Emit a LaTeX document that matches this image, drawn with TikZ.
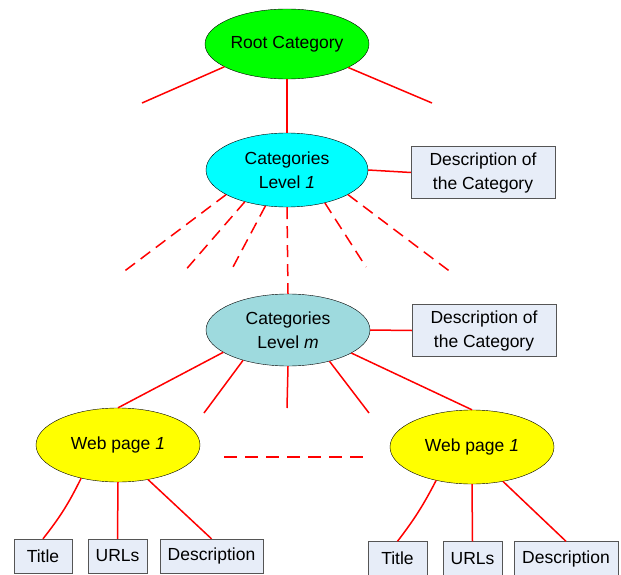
\documentclass[tikz,border=0pt]{standalone}
\usepackage{fontspec}
\setmainfont{Liberation Sans}
\usetikzlibrary{shapes.geometric}

\definecolor{rootGreen}{RGB}{0,255,0}
\definecolor{levelCyan}{RGB}{0,255,255}
\definecolor{levelTeal}{RGB}{158,218,222}
\definecolor{pageYellow}{RGB}{255,255,0}
\definecolor{boxFill}{RGB}{231,237,248}
\definecolor{boxLine}{RGB}{85,85,85}

\def\catWidth{164pt}
\def\catHeight{72pt}
\def\descWidth{144pt}
\def\descHeight{52pt}
\def\leafHeight{34pt}

\begin{document}
\begin{tikzpicture}[x=1pt, y=-1pt,
    catnode/.style = {ellipse, draw, thin, minimum width=\catWidth,
      minimum height=\catHeight, inner sep=0pt, align=center,
      font=\fontsize{17.5}{24}\selectfont},
    infobox/.style = {rectangle, draw=boxLine, fill=boxFill, thin,
      inner sep=0pt, align=center, font=\fontsize{17.5}{24}\selectfont},
    link/.style = {red, line width=1.5pt},
    dashlink/.style = {link, dash pattern=on 12pt off 7pt}
  ]
  \useasboundingbox (0,0) rectangle (621,575);
  %% category levels
  \node [catnode, fill=rootGreen, minimum height=70pt] (root) at (287,44) {Root Category};
  \node [catnode, fill=levelCyan, minimum width=162pt, minimum height=74pt] (lvlOne) at (287,170) {Categories\\Level \textit{1}};
  \node [catnode, fill=levelTeal] (lvlM) at (288,330) {Categories\\Level \textit{m}};
  \node [infobox, minimum width=\descWidth, minimum height=\descHeight] (descOne) at (483,172.5) {Description of\\the Category};
  \node [infobox, minimum width=\descWidth, minimum height=\descHeight] (descM) at (484,330.5) {Description of\\the Category};
  %% web pages
  \node [catnode, fill=pageYellow, minimum height=74pt] (pageL) at (118,445) {Web page \textit{1}};
  \node [catnode, fill=pageYellow, minimum height=74pt] (pageR) at (472,447) {Web page \textit{1}};
  %% leaves
  \node [infobox, minimum width=58pt, minimum height=\leafHeight] (titleL) at (43,556) {Title};
  \node [infobox, minimum width=59pt, minimum height=\leafHeight] (urlL) at (117.5,556) {URLs};
  \node [infobox, minimum width=103pt, minimum height=\leafHeight] (textL) at (211.5,556) {Description};
  \node [infobox, minimum width=59pt, minimum height=\leafHeight] (titleR) at (397.5,558.5) {Title};
  \node [infobox, minimum width=59pt, minimum height=\leafHeight] (urlR) at (472.5,558.5) {URLs};
  \node [infobox, minimum width=104pt, minimum height=\leafHeight] (textR) at (566,558.5) {Description};
  %% free ends
  \coordinate (rootL) at (142,103);
  \coordinate (rootR) at (432,103);
  \coordinate (fanA) at (122,273);
  \coordinate (fanB) at (183,273);
  \coordinate (fanC) at (233,267);
  \coordinate (fanD) at (366,267);
  \coordinate (fanE) at (452,273);
  \coordinate (spokeB) at (204,413);
  \coordinate (spokeC) at (287,408);
  \coordinate (spokeD) at (369,413);
  \coordinate (gapL) at (224,457);
  \coordinate (gapR) at (364,457);
  %% root links
  \draw [link] (root.200) -- (rootL);
  \draw [link] (root.339) -- (rootR);
  \draw [link] (root.south) -- (lvlOne.north);
  \draw [link] (lvlOne.east) -- (descOne.west);
  %% level 1 fan
  \draw [dashlink] (lvlOne.202) -- (fanA);
  \draw [dashlink] (lvlOne.217) -- (fanB);
  \draw [dashlink] (lvlOne.239) -- (fanC);
  \draw [dashlink] (lvlOne.south) -- (lvlM.north);
  \draw [dashlink] (lvlOne.319) -- (fanD);
  \draw [dashlink] (lvlOne.338) -- (fanE);
  %% level m spokes
  \draw [link] (lvlM.east) -- (descM.west);
  \draw [link] (lvlM.199) -- (pageL.north);
  \draw [link] (lvlM.214) -- (spokeB);
  \draw [link] (lvlM.south) -- (spokeC);
  \draw [link] (lvlM.323) -- (spokeD);
  \draw [link] (lvlM.340) -- (pageR.north);
  \draw [link, dash pattern=on 13pt off 8pt] (gapL) -- (gapR);
  %% page leaves
  \draw [link] (pageL.222) to [bend left=6] (titleL.north);
  \draw [link] (pageL.south) -- (urlL.north);
  \draw [link] (pageL.311) -- (textL.north);
  \draw [link] (pageR.223) to [bend left=5] (titleR.north);
  \draw [link] (pageR.south) -- (urlR.north);
  \draw [link] (pageR.312) -- (textR.north);
\end{tikzpicture}
\end{document}
